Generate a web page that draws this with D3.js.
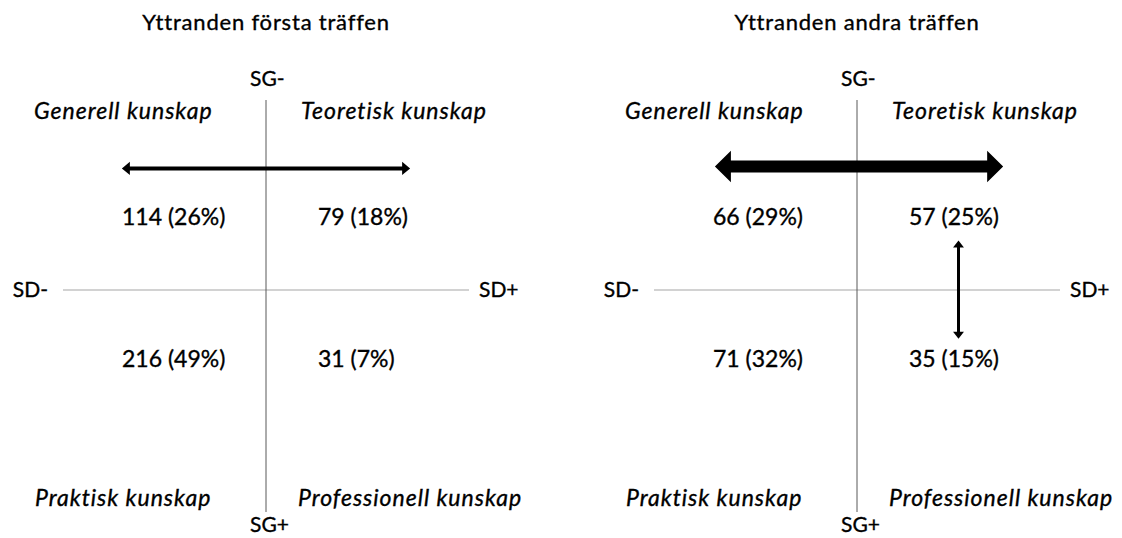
<!DOCTYPE html>
<html lang="sv">
<head>
<meta charset="UTF-8">
<title>Yttranden</title>
<script src="https://d3js.org/d3.v7.min.js"></script>
<style>
    body { margin: 0; background: #fff; }
    svg { display: block; }
    text { font-family: Lato, "Open Sans", sans-serif; fill: #000; stroke: #000; stroke-width: 0.35px; }
    .quad { font-style: italic; letter-spacing: 1px; }
</style>
</head>
<body>
<svg id="chart" width="1122" height="538"></svg>
<script>
    // panel titles
    const titles = ["Yttranden första träffen", "Yttranden andra träffen"];
    // quadrants: top-left, top-right, bottom-left, bottom-right
    const quadrants = ["Generell kunskap", "Teoretisk kunskap", "Praktisk kunskap", "Professionell kunskap"];
    const counts1 = [114, 79, 216, 31];
    const shares1 = [26, 18, 49, 7];
    const counts2 = [66, 57, 71, 35];
    const shares2 = [29, 25, 32, 15];
    const axisEnds = ["SG-", "SG+", "SD-", "SD+"];
    // arrows in axis units (x: SD- = -1 .. SD+ = 1, y: SG+ = -1 .. SG- = 1), weight = thickness
    const arrows1 = [{x1: -0.71, y1: 0.64, x2: 0.71, y2: 0.64, weight: 1}];
    const arrows2 = [
        {x1: -0.70, y1: 0.65, x2: 0.72, y2: 0.65, weight: 3},
        {x1: 0.50, y1: 0.26, x2: 0.50, y2: -0.22, weight: 0.75}
    ];

    const svg = d3.select("#chart");
    const panelData = [
        {title: titles[0], counts: counts1, shares: shares1, arrows: arrows1, cx: 266},
        {title: titles[1], counts: counts2, shares: shares2, arrows: arrows2, cx: 857}
    ];

    function arrowPath(a, x, y) {
        const ax = x(a.x1), ay = y(a.y1), bx = x(a.x2), by = y(a.y2);
        const len = Math.hypot(bx - ax, by - ay);
        const w = 4 * a.weight, hl = 4 + 4 * a.weight, hw = 2 + 4.6 * a.weight;
        const pts = [
            [0, 0], [hl, -hw], [hl, -w / 2], [len - hl, -w / 2], [len - hl, -hw],
            [len, 0], [len - hl, hw], [len - hl, w / 2], [hl, w / 2], [hl, hw]
        ];
        const ang = Math.atan2(by - ay, bx - ax);
        const c = Math.cos(ang), s = Math.sin(ang);
        return "M" + pts.map(p => [ax + p[0] * c - p[1] * s, ay + p[0] * s + p[1] * c].join(",")).join("L") + "Z";
    }

    panelData.forEach(p => {
        const g = svg.append("g");
        const x = d3.scaleLinear().domain([-1, 1]).range([p.cx - 203, p.cx + 203]);
        const y = d3.scaleLinear().domain([1, 0, -1]).range([100, 290, 512]);

        g.append("text")
            .attr("x", x(0)).attr("y", 30)
            .attr("text-anchor", "middle")
            .style("font-size", "22px")
            .style("letter-spacing", "0.8px")
            .text(p.title);

        // axes
        g.append("line")
            .attr("x1", x(-1)).attr("x2", x(1))
            .attr("y1", y(0)).attr("y2", y(0))
            .attr("stroke", "#a6a6a6").attr("stroke-width", 1.2);
        g.append("line")
            .attr("x1", x(0)).attr("x2", x(0))
            .attr("y1", y(1)).attr("y2", y(-1))
            .attr("stroke", "#595959").attr("stroke-width", 1);

        g.append("text").attr("x", x(0) - 16).attr("y", 86).style("font-size", "21px").text(axisEnds[0]);
        g.append("text").attr("x", x(0) - 16).attr("y", 532).style("font-size", "21px").text(axisEnds[1]);
        g.append("text").attr("x", x(-1) - 15).attr("y", y(0) + 7).attr("text-anchor", "end").style("font-size", "21px").text(axisEnds[2]);
        g.append("text").attr("x", x(1) + 10).attr("y", y(0) + 7).style("font-size", "21px").text(axisEnds[3]);

        // quadrant names
        const qx = [x(0) - 232, x(0) + 35, x(0) - 231, x(0) + 32];
        const qy = [119, 119, 506, 506];
        g.selectAll("text.quad")
            .data(quadrants)
            .enter().append("text")
            .attr("class", "quad")
            .attr("x", (d, i) => qx[i]).attr("y", (d, i) => qy[i])
            .style("font-size", "23px")
            .text(d => d);

        // counts
        const nx = [x(0) - 144, x(0) + 52, x(0) - 144, x(0) + 52];
        const ny = [225, 225, 367, 367];
        g.selectAll("text.count")
            .data(p.counts)
            .enter().append("text")
            .attr("class", "count")
            .attr("x", (d, i) => nx[i]).attr("y", (d, i) => ny[i])
            .style("font-size", "23px")
            .text((d, i) => `${d} (${p.shares[i]}%)`);

        g.selectAll("path.arrow")
            .data(p.arrows)
            .enter().append("path")
            .attr("class", "arrow")
            .attr("d", d => arrowPath(d, x, y))
            .attr("fill", "#000");
    });
</script>
</body>
</html>
